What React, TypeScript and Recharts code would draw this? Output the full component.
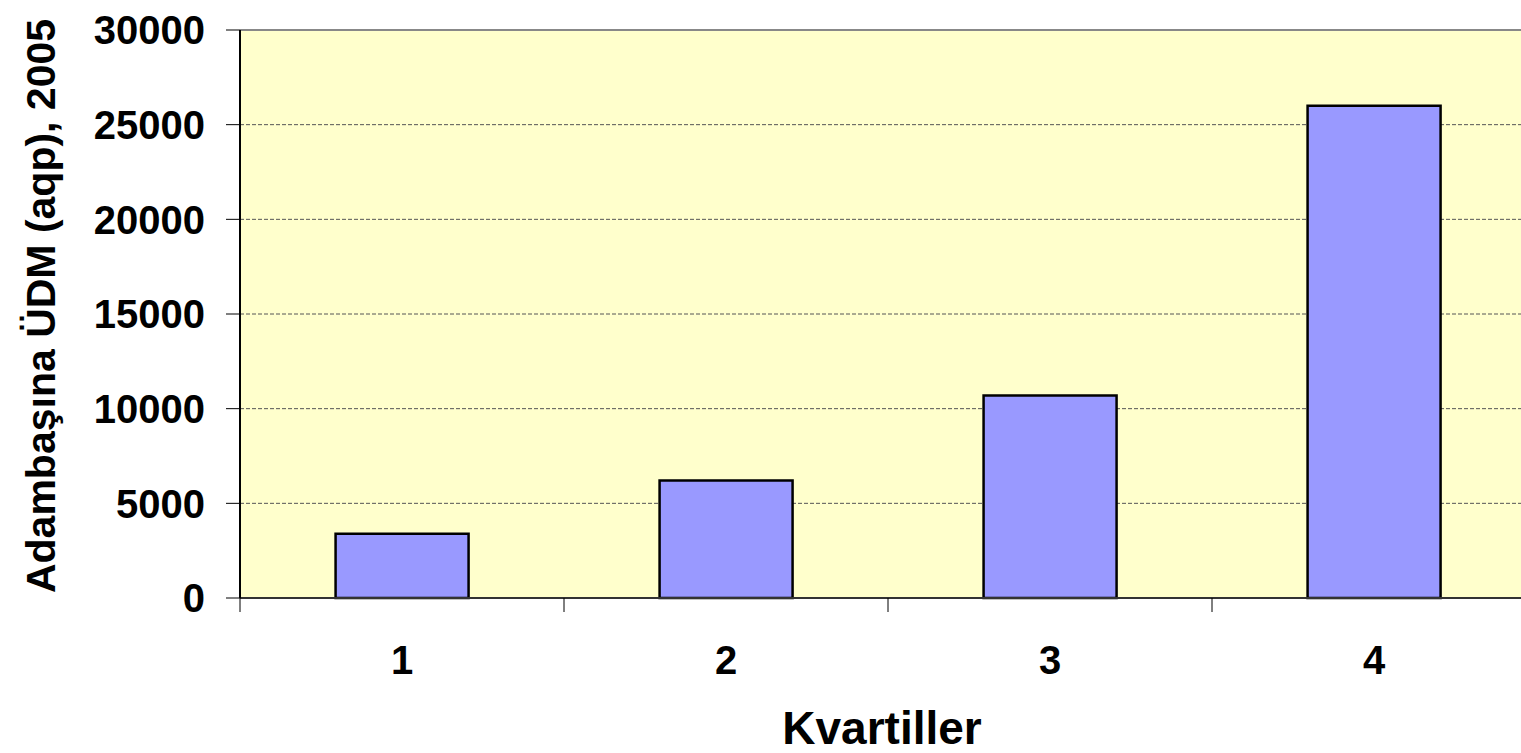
import { BarChart, Bar, XAxis, YAxis, CartesianGrid, ReferenceLine, Label } from 'recharts'

const quartiles = ['1', '2', '3', '4']
const gdpPerCapita = [3400, 6200, 10700, 26000]
const yTicks = [0, 5000, 10000, 15000, 20000, 25000, 30000]

const data = quartiles.map((q, i) => ({ q, value: gdpPerCapita[i] }))

const FONT = '"Liberation Sans", Arial, sans-serif'
const CHART_W = 1540
const CHART_H = 753
const Y_W = 240
const M_RIGHT = 4
const BAND = (CHART_W - Y_W - M_RIGHT) / quartiles.length

const XTick = ({ x, y, payload }: any) => {
  const half = payload?.offset ?? BAND / 2
  return (
    <g>
      <line x1={x - half} x2={x - half} y1={y - 14} y2={y} stroke="#000" strokeWidth={1} />
      <text x={x} y={y + 62} textAnchor="middle" fontFamily={FONT} fontWeight={700} fontSize={40} fill="#000">
        {payload.value}
      </text>
    </g>
  )
}

export default function App() {
  return (
    <div style={{ position: 'absolute', left: 0, top: 0, width: 1521, height: CHART_H, overflow: 'hidden', background: '#fff' }}>
      <BarChart
        width={CHART_W}
        height={CHART_H}
        data={data}
        margin={{ top: 30, right: M_RIGHT, left: 0, bottom: 0 }}
        barCategoryGap="29.5%"
      >
        <CartesianGrid fill="#FFFFCC" vertical={false} stroke="#555" strokeDasharray="4 2" />
        <XAxis
          dataKey="q"
          height={155}
          tickLine={false}
          tickSize={14}
          tickMargin={0}
          axisLine={{ stroke: '#333', strokeWidth: 2 }}
          tick={<XTick />}
          interval={0}
        >
          <Label
            content={({ viewBox }: any) => (
              <text
                x={viewBox.x + viewBox.width / 2 - 6}
                y={viewBox.y + 146}
                textAnchor="middle"
                fontFamily={FONT}
                fontWeight={700}
                fontSize={46}
                fill="#000"
              >
                Kvartiller
              </text>
            )}
          />
        </XAxis>
        <YAxis
          width={Y_W}
          domain={[0, 30000]}
          ticks={yTicks}
          interval={0}
          tickSize={14}
          tickMargin={21}
          tickLine={{ stroke: '#000', strokeWidth: 1 }}
          axisLine={{ stroke: '#000', strokeWidth: 2 }}
          tick={{ fill: '#000', fontSize: 40, fontWeight: 700, fontFamily: FONT }}
        >
          <Label
            content={({ viewBox }: any) => {
              const cx = 55
              const cy = viewBox.y + viewBox.height / 2 - 8
              return (
                <text
                  x={cx}
                  y={cy}
                  transform={`rotate(-90, ${cx}, ${cy})`}
                  textAnchor="middle"
                  fontFamily={FONT}
                  fontWeight={700}
                  fontSize={41}
                  fill="#000"
                >
                  Adambaşına ÜDM (aqp),  2005
                </text>
              )
            }}
          />
        </YAxis>
        <ReferenceLine y={30000} stroke="#888" strokeWidth={2} />
        <Bar dataKey="value" fill="#9999FF" stroke="#000" strokeWidth={2.5} isAnimationActive={false} />
      </BarChart>
    </div>
  )
}
